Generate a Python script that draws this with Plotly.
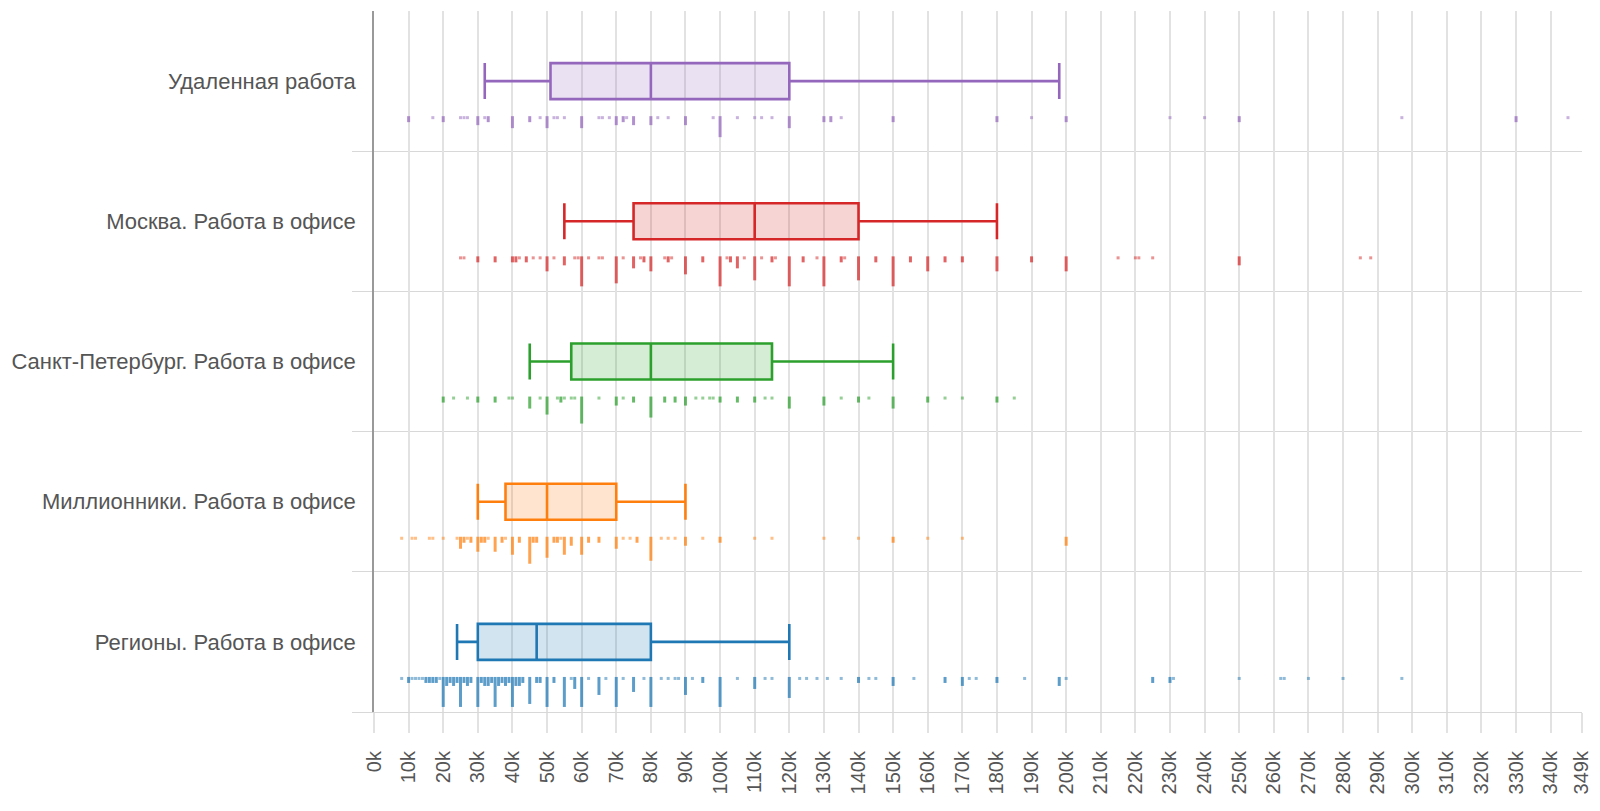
import plotly.graph_objects as go

# ---------------- data (values in thousands) ----------------
categories = ["Удаленная работа", "Москва. Работа в офисе",
              "Санкт-Петербург. Работа в офисе", "Миллионники. Работа в офисе",
              "Регионы. Работа в офисе"]
colors = ["#9467bd", "#d62728", "#2ca02c", "#ff7f0e", "#1f77b4"]
rgb = ["148,103,189", "214,39,40", "44,160,44", "255,127,14", "31,119,180"]

lower_fence = [32, 55, 45, 30, 24]
q1 = [51, 75, 57, 38, 30]
median = [80, 110, 80, 50, 47]
q3 = [120, 140, 115, 70, 80]
upper_fence = [198, 180, 150, 90, 120]

remote_vals = [10, 17, 20, 25, 26, 27, 30, 32, 33, 40, 45, 48, 50, 52, 53, 55, 60, 65, 66, 68, 70, 72, 73, 75,
               80, 82, 85, 90, 98, 100, 105, 110, 112, 115, 120, 130, 132, 135, 150, 180, 190, 200, 230, 240,
               250, 297, 330, 345]
remote_cnts = [2, 1, 2, 1, 1, 1, 3, 1, 2, 4, 2, 1, 4, 1, 1, 1, 4, 1, 1, 1, 3, 2, 1, 3,
               3, 1, 1, 3, 1, 7, 1, 1, 1, 1, 4, 2, 2, 1, 2, 2, 1, 2, 1, 1,
               2, 1, 2, 1]

moscow_vals = [25, 26, 30, 35, 40, 41, 42, 44, 46, 48, 50, 52, 55, 58, 59, 60, 62, 65, 66, 70, 72, 75, 77, 78,
               80, 84, 85, 86, 90, 95, 100, 102, 103, 105, 107, 110, 112, 115, 116, 120, 124, 128, 130, 135,
               136, 140, 145, 150, 155, 160, 165, 170, 180, 190, 200, 215, 220, 221, 225, 250, 285, 288]
moscow_cnts = [1, 1, 2, 2, 2, 2, 1, 2, 1, 1, 5, 1, 3, 1, 1, 10, 1, 1, 1, 9, 1, 4, 1, 2,
               5, 1, 2, 1, 6, 2, 10, 1, 2, 4, 1, 8, 1, 2, 1, 10, 2, 1, 10, 2,
               1, 8, 2, 10, 2, 5, 2, 2, 5, 2, 5, 1, 1, 1, 1, 3, 1, 1]

spb_vals = [20, 23, 27, 30, 35, 39, 40, 45, 48, 50, 53, 54, 55, 57, 58, 60, 65, 70, 72, 75, 80, 84, 87, 90,
            93, 95, 97, 98, 100, 105, 110, 113, 115, 120, 130, 135, 140, 143, 150, 160, 165, 170, 180, 185]
spb_cnts = [2, 1, 1, 2, 2, 1, 1, 4, 1, 6, 1, 2, 1, 1, 1, 9, 1, 3, 1, 2, 7, 2, 2, 3,
            1, 1, 1, 1, 2, 2, 2, 1, 1, 4, 3, 1, 2, 1, 4, 2, 1, 1, 2, 1]

mil_vals = [8, 11, 12, 16, 17, 20, 24, 25, 26, 27, 28, 30, 31, 32, 33, 35, 37, 38, 40, 42, 45, 46, 47, 50,
            52, 53, 54, 55, 57, 60, 62, 65, 70, 72, 74, 76, 80, 83, 85, 87, 90, 95, 100, 110, 115, 130,
            140, 150, 160, 170, 200]
mil_cnts = [1, 1, 1, 1, 1, 1, 1, 4, 2, 1, 2, 5, 2, 2, 1, 5, 2, 1, 6, 2, 9, 2, 2, 7,
            2, 2, 1, 6, 3, 6, 2, 2, 4, 1, 1, 2, 8, 1, 1, 1, 3, 1, 2, 1, 1, 1,
            1, 2, 1, 1, 3]

reg_vals = [8, 10, 11, 12, 13, 14, 15, 16, 17, 18, 19, 20, 21, 22, 23, 24, 25, 26, 27, 28, 30, 31, 32, 33,
            34, 35, 36, 37, 38, 39, 40, 41, 42, 43, 45, 47, 48, 50, 52, 55, 57, 58, 60, 62, 65, 67, 70,
            72, 75, 78, 80, 83, 85, 87, 88, 90, 92, 95, 100, 105, 110, 113, 115, 120, 123, 125, 128, 131,
            135, 140, 143, 145, 150, 156, 165, 170, 172, 174, 180, 188, 198, 200, 225, 230, 231, 250, 262,
            263, 270, 280, 297]
reg_cnts = [1, 2, 1, 1, 1, 1, 2, 2, 2, 2, 1, 10, 3, 2, 3, 2, 10, 2, 3, 2, 10, 2, 3, 3,
            2, 10, 3, 2, 3, 2, 10, 3, 3, 2, 9, 2, 2, 10, 2, 10, 1, 4, 10, 1, 6, 1, 10,
            1, 5, 1, 10, 1, 1, 1, 1, 6, 1, 2, 10, 1, 4, 1, 1, 7, 1, 1, 1, 1,
            1, 2, 1, 1, 3, 1, 2, 3, 1, 1, 2, 1, 3, 1, 2, 2, 1, 1, 1,
            1, 1, 1, 1]

rug_values = [remote_vals, moscow_vals, spb_vals, mil_vals, reg_vals]
rug_counts = [remote_cnts, moscow_cnts, spb_cnts, mil_cnts, reg_cnts]

tick_values = list(range(0, 341, 10)) + [349]
tick_labels = [f"{v}k" for v in tick_values]

# ---------------- geometry (in y-axis units; one band = 1 unit) ----------------
BOX_WIDTH = 0.257
RUG_OFFSET = 0.25
RUG_UNIT = 0.0214

fig = go.Figure()
n = len(categories)
for i, cat in enumerate(categories):
    pos = n - 1 - i
    fig.add_trace(go.Box(
        y=[pos], q1=[q1[i]], median=[median[i]], q3=[q3[i]],
        lowerfence=[lower_fence[i]], upperfence=[upper_fence[i]],
        orientation="h", width=BOX_WIDTH, whiskerwidth=1,
        line=dict(color=colors[i], width=2.6), fillcolor=f"rgba({rgb[i]},0.2)",
        boxpoints=False, name=cat, showlegend=False, hoverinfo="skip"))
    top = pos - RUG_OFFSET
    for single, alpha in ((True, 0.5), (False, 0.72)):
        xs, ys = [], []
        for v, c in zip(rug_values[i], rug_counts[i]):
            if (c == 1) != single:
                continue
            xs += [v, v, None]
            ys += [top, top - c * RUG_UNIT, None]
        fig.add_trace(go.Scatter(
            x=xs, y=ys, mode="lines", line=dict(color=f"rgba({rgb[i]},{alpha})", width=3),
            showlegend=False, hoverinfo="skip", connectgaps=False))

grid = "#e2e2e2"
fig.update_layout(
    width=1584, height=795,
    margin=dict(l=366, r=10, t=3, b=91),
    paper_bgcolor="white", plot_bgcolor="white",
    boxmode="overlay",
    font=dict(family="Liberation Sans, Arial, sans-serif", color="#555"),
    xaxis=dict(range=[0, 349.05], tickmode="array", tickvals=tick_values, ticktext=tick_labels,
               tickangle=-90, ticks="outside", ticklen=20, tickcolor=grid, tickwidth=1.5,
               showgrid=True, gridcolor=grid, gridwidth=1.5, zeroline=False,
               showline=True, linecolor="#d8d8d8", linewidth=1, ticklabeloverflow="allow",
               tickfont=dict(size=20, color="#555"), ticklabelstandoff=10, automargin=False),
    yaxis=dict(range=[-0.5, 4.5], tickmode="array", tickvals=list(range(n - 1, -1, -1)),
               ticktext=categories, ticks="outside", ticklen=12, tickcolor="rgba(0,0,0,0)",
               showgrid=False, zeroline=False, showline=True, linecolor="#999", linewidth=1.5,
               tickfont=dict(size=22, color="#555"), automargin=False,
               minor=dict(tickmode="array", tickvals=[-0.5, 0.5, 1.5, 2.5, 3.5], ticks="outside",
                          ticklen=20, tickcolor="#d8d8d8", showgrid=True, gridcolor="#d8d8d8",
                          gridwidth=1)),
)

fig.write_html("out.html")
